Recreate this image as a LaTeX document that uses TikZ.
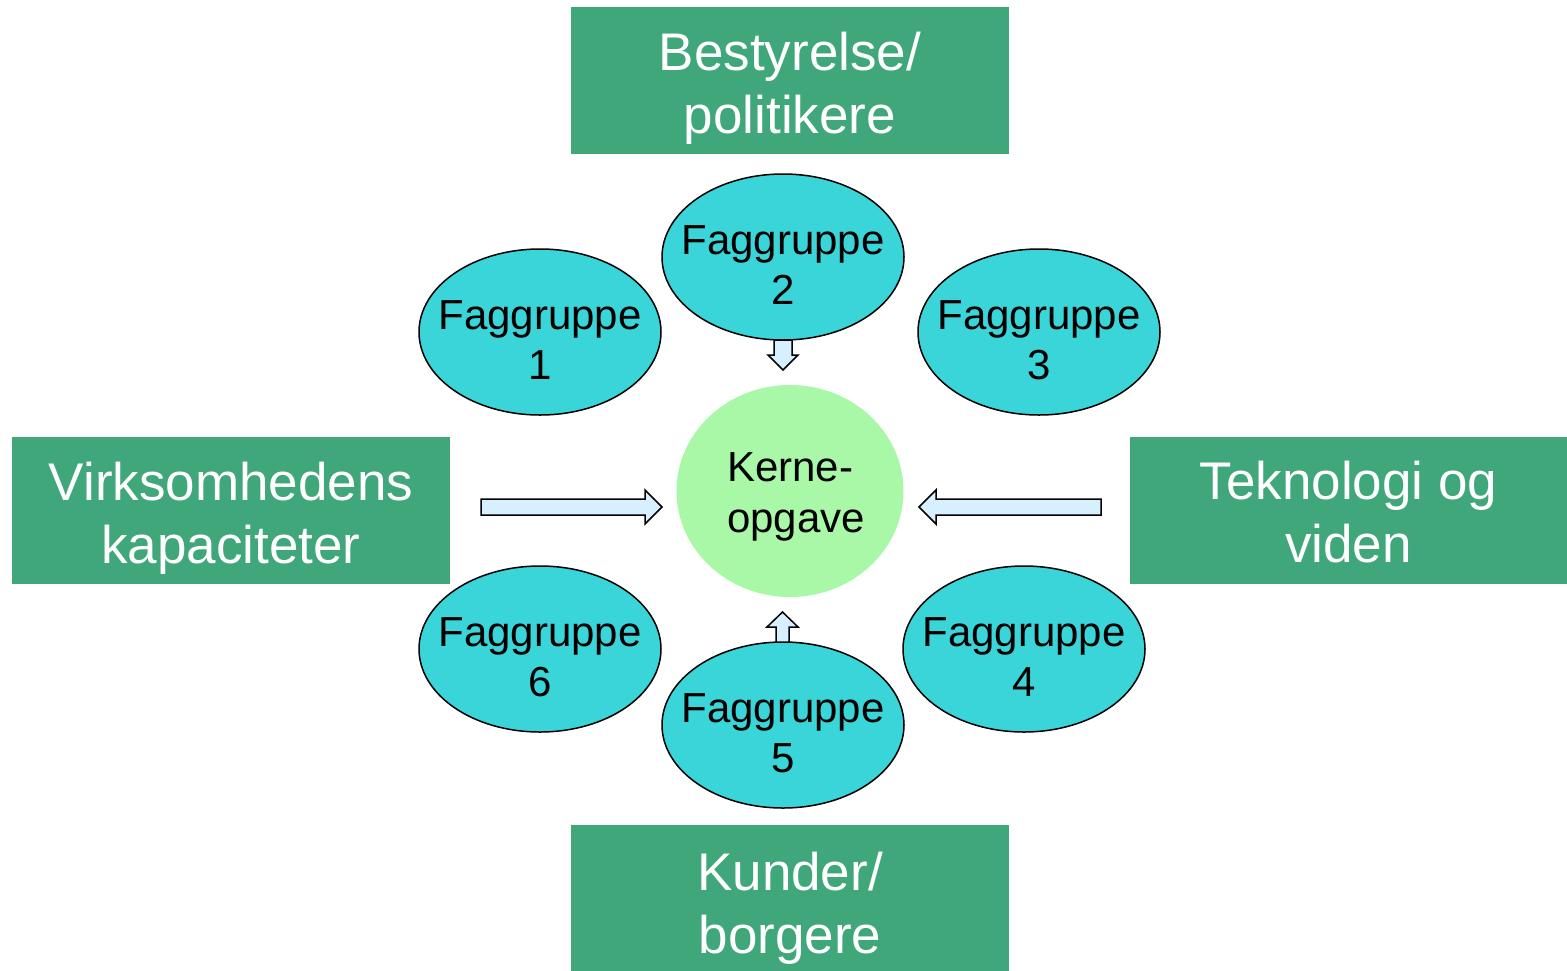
\documentclass[tikz,border=0pt]{standalone}
\usepackage{fontspec}
\setmainfont{Liberation Sans}
\usetikzlibrary{shapes.geometric}
\definecolor{boxgreen}{HTML}{3FA77A}
\definecolor{fagcyan}{HTML}{3AD5D8}
\definecolor{kernegreen}{HTML}{A8F8A8}
\definecolor{arrowblue}{HTML}{D6F0FF}
\tikzset{
  boxtext/.style={text=white, align=center, font=\fontsize{53}{63}\selectfont, yshift=-8pt},
  sidebox/.style={fill=boxgreen, draw=none, minimum width=438pt, minimum height=147pt, inner sep=0pt},
  fagtext/.style={align=center, font=\fontsize{42}{50}\selectfont, yshift=-8pt},
  fag/.style={ellipse, draw=black, line width=1.5pt, fill=fagcyan, minimum width=242pt, minimum height=166pt,
    inner sep=0pt},
  kernetext/.style={align=left, font=\fontsize{42}{51}\selectfont, yshift=-6pt, xshift=6pt},
  kerne/.style={ellipse, draw=none, fill=kernegreen, minimum width=227pt, minimum height=212pt,
    inner sep=0pt},
  blockarrow/.style={draw=black, line width=1.5pt, fill=arrowblue, line join=miter}
}
\begin{document}
\begin{tikzpicture}[x=1pt,y=-1pt]
\useasboundingbox (0,0) rectangle (1567,970);
\node[sidebox, label={[boxtext]center:Bestyrelse/\\politikere}] (top) at (790,80.5) {};
\node[sidebox, label={[boxtext, yshift=-2pt]center:Kunder/\\borgere}] (bottom) at (790,898.5) {};
\node[sidebox, label={[boxtext]center:Virksomhedens\\kapaciteter}] (left) at (231,510.5) {};
\node[sidebox, minimum width=437pt, label={[boxtext, yshift=6pt]center:Teknologi og\\viden}] (right) at (1348.5,510.5) {};
\node[kerne, label={[kernetext]center:Kerne-\\opgave}] (core) at (790,491) {};
\node[fag, label={[fagtext]center:Faggruppe\\1}] (f1) at (540,332) {};
\node[fag, label={[fagtext]center:Faggruppe\\2}] (f2) at (783,257) {};
\node[fag, label={[fagtext]center:Faggruppe\\3}] (f3) at (1039,332) {};
\node[fag, label={[fagtext]center:Faggruppe\\4}] (f4) at (1024,649) {};
\node[fag, label={[fagtext]center:Faggruppe\\5}] (f5) at (783,725) {};
\node[fag, label={[fagtext]center:Faggruppe\\6}] (f6) at (540,649) {};
% block arrows
\draw[blockarrow] (481,499) -- (645,499) -- (645,490) -- (662,507) -- (645,524) -- (645,515) -- (481,515) -- cycle;
\draw[blockarrow] (1101,499) -- (936,499) -- (936,490) -- (919,507) -- (936,524) -- (936,515) -- (1101,515) -- cycle;
\draw[blockarrow] (774,340) -- (792,340) -- (792,355) -- (798,355) -- (783,370) -- (768,355) -- (774,355) -- cycle;
\draw[blockarrow] (776,642) -- (789,642) -- (789,627) -- (798,627) -- (782.5,612) -- (767,627) -- (776,627) -- cycle;
\end{tikzpicture}
\end{document}
